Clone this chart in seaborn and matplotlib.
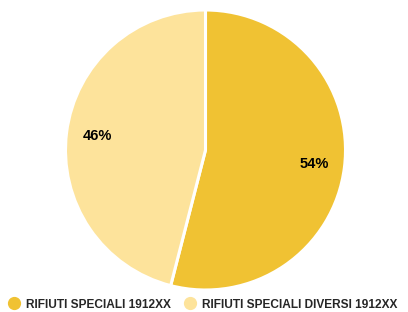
import matplotlib
matplotlib.use("Agg")
import matplotlib.pyplot as plt
from matplotlib.lines import Line2D
import seaborn as sns

# dati
categorie = ['RIFIUTI SPECIALI 1912XX', 'RIFIUTI SPECIALI DIVERSI 1912XX']
valori = [54, 46]
colori = ['#F0C233', '#FDE39B']

sns.set_theme(style="white")
plt.rcParams['font.family'] = ['Liberation Sans', 'DejaVu Sans']

fig = plt.figure(figsize=(4.08, 3.12), dpi=100)
ax = fig.add_axes([65.5 / 408, 22 / 312, 280 / 408, 280 / 312])

ax.pie(valori, colors=colori, startangle=90, counterclock=False,
       autopct='%1.0f%%', pctdistance=0.78,
       wedgeprops={'edgecolor': 'white', 'linewidth': 2.2},
       textprops={'fontsize': 10.5, 'fontweight': 'bold', 'color': 'black'})
ax.set_xlim(-1, 1)
ax.set_ylim(-1, 1)
ax.set_aspect('equal')

# legenda in basso
handles = [Line2D([0], [0], marker='o', linestyle='', markersize=8.5,
                  markerfacecolor=c, markeredgecolor=c) for c in colori]
fig.legend(handles, categorie, loc='lower left', bbox_to_anchor=(-0.01, -0.03),
           ncol=2, frameon=False, handletextpad=0.45, columnspacing=0.95,
           handlelength=1.2, prop={'size': 8.6, 'weight': 'bold'})

fig.savefig('out.png', dpi=100)
